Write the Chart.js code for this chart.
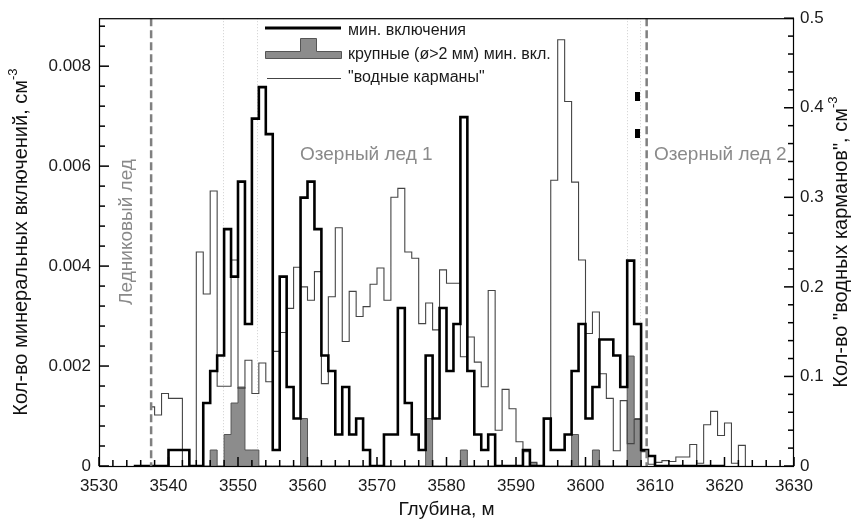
<!DOCTYPE html>
<html lang="ru">
<head>
<meta charset="utf-8">
<title>Минеральные включения и водные карманы</title>
<script src="https://cdn.jsdelivr.net/npm/chart.js@4.4.1/dist/chart.umd.min.js"></script>
<style>
  html, body { margin: 0; padding: 0; background: #fff; }
  canvas { display: block; }
</style>
</head>
<body>
<canvas id="chart" width="854" height="524"></canvas>
<script>
// --- Data (1 m depth bins, value = bin starting at that depth) ---
const mineralStart = 3535;
const mineralValues = [
    0, 0, 0, 0, 0,                                                                    // 3535-3539
    0.00032, 0.00032, 0.00032, 0, 0, 0.00126, 0.0019, 0.00221, 0.00474, 0.00379,      // 3540-3549
    0.00569, 0.00284, 0.00695, 0.00758, 0.00664, 0.00032, 0.00379, 0.00158, 0.00095, 0.00537, // 3550-3559
    0.00569, 0.00474, 0.00221, 0.0019, 0.00063, 0.00158, 0.00063, 0.00095, 0.00032, 0, // 3560-3569
    0, 0.00063, 0.00063, 0.00316, 0.00126, 0.00063, 0.00032, 0.00221, 0.00095, 0.00316, // 3570-3579
    0.0019, 0.00284, 0.00698, 0.0019, 0.00063, 0.00032, 0.00063, 0, 0, 0,             // 3580-3589
    0, 0.00032, 0, 0, 0.00095, 0.00032, 0.00032, 0.00063, 0.0019, 0.00284,            // 3590-3599
    0.00095, 0.00158, 0.00253, 0.00253, 0.00221, 0.00158, 0.00411, 0.00284, 0.00032, 0.0002, // 3600-3609
    0, 0, 0, 0, 0, 0, 0, 0, 0, 0                                                      // 3610-3619
];

const largeStart = 3545;
const largeValues = [
    0, 0.00032, 0, 0.00063, 0.00126,                                                  // 3545-3549
    0.00158, 0.00032, 0.00032, 0, 0, 0, 0, 0, 0, 0.00095,                             // 3550-3559
    0, 0, 0, 0, 0, 0, 0, 0, 0, 0,                                                     // 3560-3569
    0, 0, 0, 0, 0, 0, 0, 0.00095, 0, 0,                                               // 3570-3579
    0, 0, 0.00032, 0, 0, 0, 0, 0, 0, 0,                                               // 3580-3589
    0, 0, 0.00007, 0, 0, 0, 0, 0, 0.00063, 0,                                         // 3590-3599
    0, 0.00032, 0, 0, 0, 0, 0.0022, 0.00095                                           // 3600-3607
];

const waterLeadDepth = 3537.5;
const waterLeadValue = 0.066;
const waterStart = 3538;
const waterValues = [
    0.057, 0.081,                                                                     // 3538-3539
    0.0755, 0.0755, 0, 0, 0.239, 0.192, 0.307, 0.089, 0.089, 0.23,                    // 3540-3549
    0.087, 0.118, 0.081, 0.115, 0.094, 0.128, 0.149, 0.176, 0.222, 0.2,               // 3550-3559
    0.185, 0.217, 0.092, 0.189, 0.266, 0.139, 0.195, 0.167, 0.178, 0.203,             // 3560-3569
    0.221, 0.185, 0.30, 0.31, 0.239, 0.232, 0.159, 0.182, 0.152, 0.219,               // 3570-3579
    0.204, 0.204, 0.122, 0.144, 0.116, 0.0885, 0.196, 0.04, 0.0856, 0.064,            // 3580-3589
    0.027, 0.016, 0.004, 0, 0.052, 0.319, 0.476, 0.407, 0.317, 0.23,                  // 3590-3599
    0.148, 0.172, 0.103, 0.0755, 0.017, 0.073, 0.025, 0.052, 0.016, 0.002,            // 3600-3609
    0.004, 0.006, 0.005, 0.01, 0.01, 0.024, 0.003, 0.046, 0.061, 0.034,               // 3610-3619
    0.048, 0.003, 0.023                                                               // 3620-3622
];

const markerDepths = [3607.5, 3607.5];
const markerValues = [0.0074, 0.00666];

const boundaryDepths = [3537.5, 3608.8];
const guideDepths = [3547.9, 3552.8, 3606.0, 3607.9];

const xRange = [3530, 3630];
const leftRange = [0, 0.00896];
const rightRange = [0, 0.5];
const xTicks = [3530, 3540, 3550, 3560, 3570, 3580, 3590, 3600, 3610, 3620, 3630];
const leftTicks = [0, 0.002, 0.004, 0.006, 0.008];
const rightTicks = [0, 0.1, 0.2, 0.3, 0.4, 0.5];
const xMinorStep = 2;
const leftMinorStep = 0.0004;
const rightMinorStep = 0.02;

const legendLabels = ['мин. включения', 'крупные (ø>2 мм) мин. вкл.', '"водные карманы"'];
const zoneLabels = ['Ледниковый лед', 'Озерный лед 1', 'Озерный лед 2'];
const xTitle = 'Глубина, м';
const leftTitle = 'Кол-во минеральных включений, см';
const rightTitle = 'Кол-во "водных карманов", см';
const unitSup = '-3';

// --- Helpers ---
const FONT = '"Liberation Sans", Arial, Helvetica, sans-serif';

const toSteps = (start, values, endValue) => {
    const pts = values.map((v, i) => ({ x: start + i, y: v }));
    pts.push({ x: start + values.length, y: endValue });
    return pts;
};

const markerImg = document.createElement('canvas');
markerImg.width = 5;
markerImg.height = 9;
markerImg.getContext('2d').fillRect(0, 0, 5, 9);

function drawRotatedSup(ctx, main, sup, cx, cy, size, angle) {
    ctx.save();
    ctx.translate(cx, cy);
    ctx.rotate(angle);
    ctx.font = `${size}px ${FONT}`;
    const w1 = ctx.measureText(main).width;
    ctx.font = `${Math.round(size * 0.65)}px ${FONT}`;
    const w2 = ctx.measureText(sup).width;
    const x0 = -(w1 + w2) / 2;
    ctx.fillStyle = '#111';
    ctx.textAlign = 'left';
    ctx.textBaseline = 'middle';
    ctx.font = `${size}px ${FONT}`;
    ctx.fillText(main, x0, 0);
    ctx.font = `${Math.round(size * 0.65)}px ${FONT}`;
    ctx.fillText(sup, x0 + w1, -size * 0.38);
    ctx.restore();
}

function strokeSeg(ctx, x1, y1, x2, y2) {
    ctx.beginPath();
    ctx.moveTo(x1, y1);
    ctx.lineTo(x2, y2);
    ctx.stroke();
}

// --- Decorations: guides, boundaries, inward ticks, frame, legend, labels ---
const decorPlugin = {
    id: 'decor',
    beforeDatasetsDraw(chart) {
        const { ctx, chartArea: a, scales: { x } } = chart;
        ctx.save();
        ctx.strokeStyle = '#cfcfcf';
        ctx.lineWidth = 1;
        ctx.setLineDash([1, 2]);
        guideDepths.forEach(d => {
            const px = Math.round(x.getPixelForValue(d)) + 0.5;
            strokeSeg(ctx, px, a.top, px, a.bottom);
        });
        ctx.restore();
    },
    afterDatasetsDraw(chart) {
        const { ctx, chartArea: a, scales: { x } } = chart;
        ctx.save();
        ctx.strokeStyle = '#808080';
        ctx.lineWidth = 2.5;
        ctx.setLineDash([8, 4]);
        boundaryDepths.forEach(d => {
            const px = x.getPixelForValue(d);
            strokeSeg(ctx, px, a.top, px, a.bottom);
        });
        ctx.restore();
    },
    afterDraw(chart) {
        const { ctx, chartArea: a, scales } = chart;
        const x = scales.x, y = scales.y, y2 = scales.y2;
        ctx.save();
        ctx.setLineDash([]);

        // frame
        ctx.strokeStyle = '#000';
        ctx.lineWidth = 1.2;
        ctx.strokeRect(a.left + 0.5, a.top + 0.5, a.right - a.left - 1, a.bottom - a.top);

        // inward ticks
        ctx.fillStyle = '#000';
        const nx = Math.round((xRange[1] - xRange[0]) / xMinorStep);
        for (let k = 0; k <= nx; k++) {
            const px = x.getPixelForValue(xRange[0] + k * xMinorStep);
            const len = k % 5 === 0 ? 9 : 6;
            ctx.fillRect(px - 0.75, a.bottom - len, 1.5, len);
        }
        const nl = Math.floor(leftRange[1] / leftMinorStep + 1e-6);
        for (let k = 0; k <= nl; k++) {
            const py = y.getPixelForValue(k * leftMinorStep);
            const len = k % 5 === 0 ? 10 : 6;
            ctx.fillRect(a.left, py - 0.75, len, 1.5);
        }
        const nr = Math.round(rightRange[1] / rightMinorStep);
        for (let k = 0; k <= nr; k++) {
            const py = y2.getPixelForValue(k * rightMinorStep);
            const len = k % 5 === 0 ? 10 : 6;
            ctx.fillRect(a.right - len, py - 0.75, len, 1.5);
        }

        // legend
        ctx.strokeStyle = '#000';
        ctx.lineWidth = 3;
        strokeSeg(ctx, 265, 28, 341, 28);
        ctx.fillStyle = '#8c8c8c';
        ctx.strokeStyle = '#555';
        ctx.lineWidth = 1;
        ctx.beginPath();
        ctx.moveTo(265.5, 58.5);
        ctx.lineTo(265.5, 51.5);
        ctx.lineTo(300.5, 51.5);
        ctx.lineTo(300.5, 38.5);
        ctx.lineTo(316.5, 38.5);
        ctx.lineTo(316.5, 51.5);
        ctx.lineTo(341.5, 51.5);
        ctx.lineTo(341.5, 58.5);
        ctx.closePath();
        ctx.fill();
        ctx.stroke();
        ctx.strokeStyle = '#444';
        strokeSeg(ctx, 267, 78.5, 341, 78.5);

        ctx.fillStyle = '#1a1a1a';
        ctx.font = `16px ${FONT}`;
        ctx.textAlign = 'left';
        ctx.textBaseline = 'middle';
        ctx.fillText(legendLabels[0], 348, 31);
        ctx.fillText(legendLabels[1], 348, 55);
        ctx.fillText(legendLabels[2], 348, 78);

        // zone labels
        ctx.fillStyle = '#8a8a8a';
        ctx.font = `19px ${FONT}`;
        ctx.fillText(zoneLabels[1], 300, 155);
        ctx.fillText(zoneLabels[2], 654, 155);
        ctx.save();
        ctx.translate(127, 232);
        ctx.rotate(-Math.PI / 2);
        ctx.textAlign = 'center';
        ctx.fillText(zoneLabels[0], 0, 0);
        ctx.restore();

        // axis titles
        ctx.fillStyle = '#111';
        ctx.font = `19px ${FONT}`;
        ctx.textAlign = 'center';
        ctx.fillText(xTitle, (a.left + a.right) / 2, 510);
        ctx.restore();

        const cy = (a.top + a.bottom) / 2;
        drawRotatedSup(ctx, leftTitle, unitSup, 21, cy, 20, -Math.PI / 2);
        drawRotatedSup(ctx, rightTitle, unitSup, 841, cy, 20, -Math.PI / 2);
    }
};

// --- Chart ---
Chart.defaults.font.family = FONT;
Chart.defaults.color = '#1a1a1a';

new Chart(document.getElementById('chart'), {
    type: 'line',
    data: {
        datasets: [
            {
                type: 'scatter',
                label: 'markers',
                data: markerDepths.map((d, i) => ({ x: d, y: markerValues[i] })),
                yAxisID: 'y',
                pointStyle: markerImg,
                pointRadius: 4,
                showLine: false
            },
            {
                label: legendLabels[0],
                data: toSteps(mineralStart, mineralValues, 0),
                yAxisID: 'y',
                stepped: true,
                borderColor: '#000',
                borderWidth: 2.6,
                pointRadius: 0,
                fill: false
            },
            {
                label: legendLabels[2],
                data: [{ x: waterLeadDepth, y: waterLeadValue }].concat(toSteps(waterStart, waterValues, 0)),
                yAxisID: 'y2',
                stepped: true,
                borderColor: '#444',
                borderWidth: 1.1,
                pointRadius: 0,
                fill: false
            },
            {
                label: legendLabels[1],
                data: toSteps(largeStart, largeValues, 0),
                yAxisID: 'y',
                stepped: true,
                borderColor: '#555',
                borderWidth: 1,
                backgroundColor: '#8c8c8c',
                pointRadius: 0,
                fill: 'origin'
            }
        ]
    },
    options: {
        responsive: false,
        animation: false,
        layout: { padding: { top: 18, left: 0, right: 0, bottom: 0 } },
        plugins: {
            legend: { display: false },
            tooltip: { enabled: false }
        },
        scales: {
            x: {
                type: 'linear',
                min: xRange[0],
                max: xRange[1],
                afterBuildTicks: s => { s.ticks = xTicks.map(v => ({ value: v })); },
                afterFit: s => { s.height = 58; },
                grid: { display: false, drawTicks: false },
                border: { display: false },
                ticks: {
                    font: { size: 17 },
                    color: '#1a1a1a',
                    padding: 10,
                    maxRotation: 0,
                    callback: v => String(v)
                }
            },
            y: {
                type: 'linear',
                position: 'left',
                min: leftRange[0],
                max: leftRange[1],
                afterBuildTicks: s => { s.ticks = leftTicks.map(v => ({ value: v })); },
                afterFit: s => { s.width = 99; },
                grid: { display: false, drawTicks: false },
                border: { display: false },
                ticks: {
                    font: { size: 17 },
                    color: '#1a1a1a',
                    padding: 8,
                    callback: v => (v === 0 ? '0' : v.toFixed(3))
                }
            },
            y2: {
                type: 'linear',
                position: 'right',
                min: rightRange[0],
                max: rightRange[1],
                afterBuildTicks: s => { s.ticks = rightTicks.map(v => ({ value: v })); },
                afterFit: s => { s.width = 60; },
                grid: { display: false, drawTicks: false },
                border: { display: false },
                ticks: {
                    font: { size: 17 },
                    color: '#1a1a1a',
                    padding: 6,
                    callback: v => (v === 0 ? '0' : v.toFixed(1))
                }
            }
        }
    },
    plugins: [decorPlugin]
});
</script>
</body>
</html>
